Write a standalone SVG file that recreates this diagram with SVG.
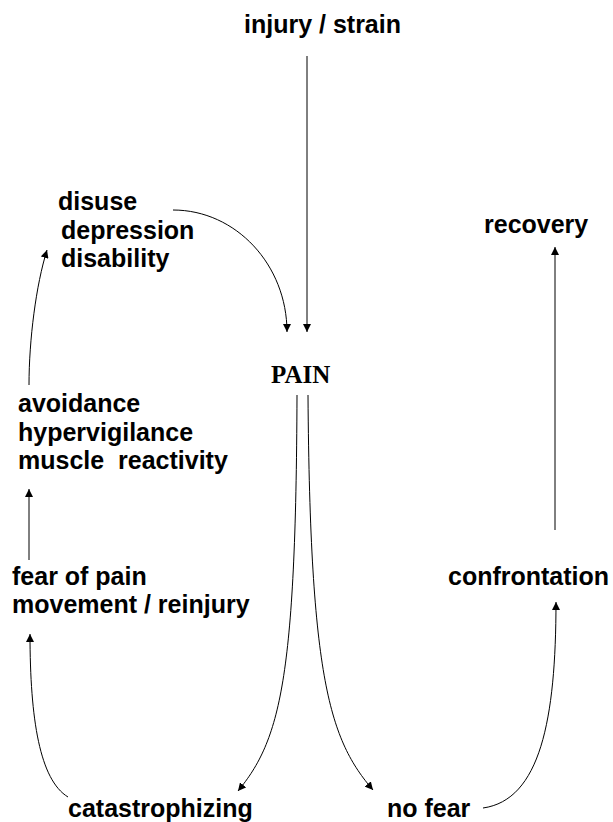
<svg xmlns="http://www.w3.org/2000/svg" width="613" height="822" viewBox="0 0 613 822">
<style>
.t{font-family:"Liberation Sans",Arial,sans-serif;font-weight:bold;font-size:25px;fill:#000;white-space:pre}
.s{font-family:"Liberation Serif","Times New Roman",serif;font-weight:bold;font-size:25px;fill:#000}
.c{fill:none;stroke:#000;stroke-width:1;marker-end:url(#ah)}
</style>
<defs>
<marker id="ah" viewBox="0 0 10 10" refX="10" refY="5" markerWidth="8" markerHeight="8" markerUnits="userSpaceOnUse" orient="auto">
<path d="M0,0 L10,5 L0,10 Z" fill="#000"/>
</marker>
</defs>
<rect width="613" height="822" fill="#fff"/>
<g id="connectors">
<path class="c" d="M307,56 L307,332"/>
<path class="c" d="M173,210 C236,210 287,265 287,332"/>
<path class="c" d="M29,385 C29,340 36,285 47,250"/>
<path class="c" d="M29,560 L29,489"/>
<path class="c" d="M68,797 C40,780 30,720 30,634"/>
<path class="c" d="M297,395 C296,680 280,740 238,791"/>
<path class="c" d="M308,395 C310,680 330,740 373,790"/>
<path class="c" d="M483,808 C540,800 556,720 556,602"/>
<path class="c" d="M555,530 L555,247"/>
</g>
<g id="injury"><text class="t" x="244" y="33">injury / strain</text></g>
<g id="disuse"><text class="t" x="58" y="210">disuse</text><text class="t" x="61" y="239">depression</text><text class="t" x="61" y="267">disability</text></g>
<g id="recovery"><text class="t" x="484" y="233">recovery</text></g>
<g id="pain"><text class="s" x="271" y="383">PAIN</text></g>
<g id="avoidance"><text class="t" x="18" y="412">avoidance</text><text class="t" x="18" y="441">hypervigilance</text><text class="t" x="18" y="469">muscle  reactivity</text></g>
<g id="fear"><text class="t" x="12" y="585">fear of pain</text><text class="t" x="12" y="613">movement / reinjury</text></g>
<g id="confrontation"><text class="t" x="448" y="585">confrontation</text></g>
<g id="catastrophizing"><text class="t" x="68" y="817">catastrophizing</text></g>
<g id="nofear"><text class="t" x="387" y="817">no fear</text></g>
</svg>
